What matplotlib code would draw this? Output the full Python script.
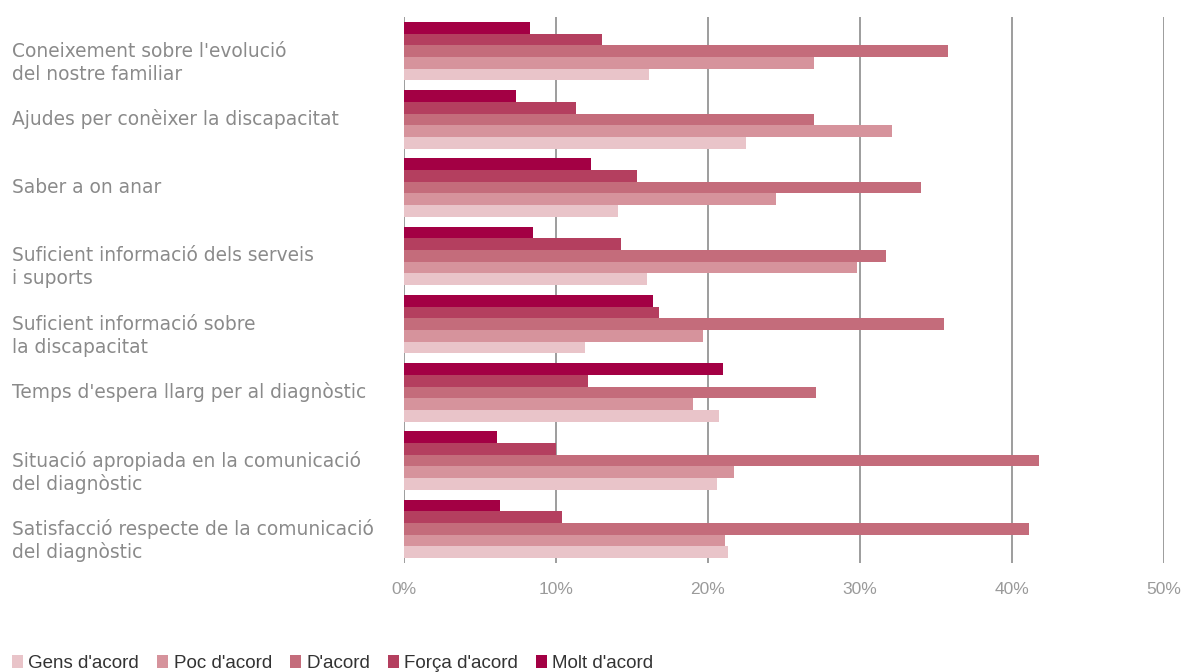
import numpy as np
import matplotlib.pyplot as plt
import matplotlib.transforms as mtransforms
from matplotlib.patches import Patch


# Survey answers, percentage of respondents per statement
categories = [
    "Coneixement sobre l'evolució\ndel nostre familiar",
    "Ajudes per conèixer la discapacitat",
    "Saber a on anar",
    "Suficient informació dels serveis\ni suports",
    "Suficient informació sobre\nla discapacitat",
    "Temps d'espera llarg per al diagnòstic",
    "Situació apropiada en la comunicació\ndel diagnòstic",
    "Satisfacció respecte de la comunicació\ndel diagnòstic",
]

series_names = ["Gens d'acord", "Poc d'acord", "D'acord", "Força d'acord", "Molt d'acord"]

gens = [16.1, 22.5, 14.1, 16.0, 11.9, 20.7, 20.6, 21.3]
poc = [27.0, 32.1, 24.5, 29.8, 19.7, 19.0, 21.7, 21.1]
dacord = [35.8, 27.0, 34.0, 31.7, 35.5, 27.1, 41.8, 41.1]
forca = [13.0, 11.3, 15.3, 14.3, 16.8, 12.1, 10.0, 10.4]
molt = [8.3, 7.4, 12.3, 8.5, 16.4, 21.0, 6.1, 6.3]

x_ticks = [0, 10, 20, 30, 40, 50]

colors = ["#E9C4C9", "#D6939C", "#C46C7B", "#B43F5F", "#A30044"]
values = [gens, poc, dacord, forca, molt]


# Figure layout
fig = plt.figure(figsize=(11.81, 6.72), dpi=100)
ax = fig.add_axes([404 / 1181, 1 - 563 / 672, 760 / 1181, 546 / 672])

y = np.arange(len(categories))
h = 0.171
# Gens at the bottom of each group, Molt on top
offsets = [2 * h, h, 0, -h, -2 * h]

for vals, off, col, name in zip(values, offsets, colors, series_names):
    ax.barh(y + off, vals, height=h, color=col, label=name, zorder=3)

ax.set_xlim(0, 50)
ax.set_ylim(len(categories) - 0.5, -0.5)

ax.set_xticks(x_ticks)
ax.set_xticklabels([f"{t}%" for t in x_ticks])
ax.tick_params(axis="x", length=0, pad=14, labelsize=12.5, labelcolor="#9a9a9a")
ax.tick_params(axis="y", length=0, labelleft=False)
for lab in ax.get_xticklabels():
    lab.set_fontfamily("Liberation Sans")

ax.grid(axis="x", color="#8c8c8c", linewidth=1.2, zorder=0)
ax.set_axisbelow(True)
for s in ax.spines.values():
    s.set_visible(False)

# Category labels, left aligned at the figure edge
trans = mtransforms.blended_transform_factory(fig.transFigure, ax.transData)
line_gap = 23 / (546 / len(categories))
for i, cat in enumerate(categories):
    for j, line in enumerate(cat.split("\n")):
        ax.text(12 / 1181, i + j * line_gap, line, transform=trans,
                ha="left", va="center", fontsize=13.45, color="#8a8a8a",
                family="DejaVu Sans")

# Legend along the bottom
handles = [Patch(facecolor=c, edgecolor="none") for c in colors]
fig.legend(handles, series_names, loc="lower left", ncol=5,
           bbox_to_anchor=(12 / 1181, 0.0), frameon=False,
           borderpad=0, borderaxespad=0,
           handlelength=0.6, handleheight=0.65, handletextpad=0.28,
           columnspacing=0.95,
           prop={"family": "Liberation Sans", "size": 13.5},
           labelcolor="#333333")

fig.savefig("out.png", dpi=100)
